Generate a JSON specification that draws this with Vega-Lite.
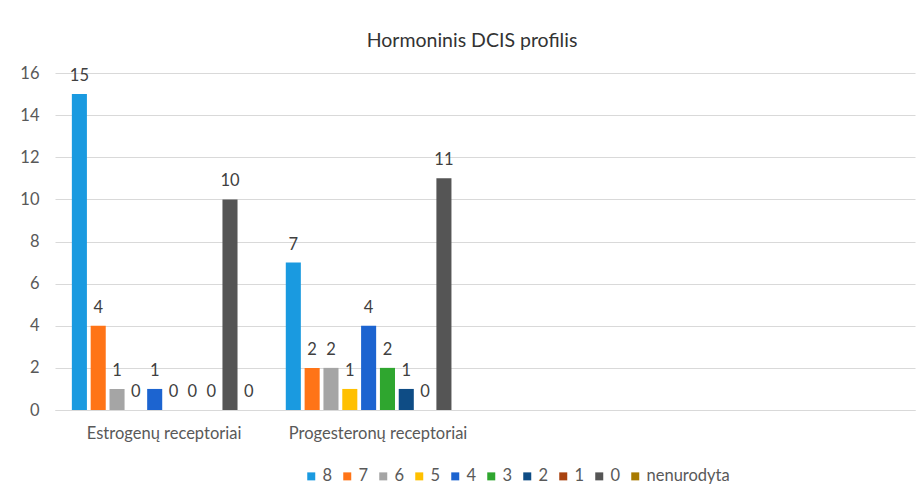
{
  "$schema": "https://vega.github.io/schema/vega-lite/v6.json",
  "width": 860,
  "height": 337,
  "autosize": {"type": "none"},
  "padding": {"left": 55, "top": 73, "right": 6, "bottom": 77},
  "background": "white",
  "title": {"text": "Hormoninis DCIS profilis", "fontSize": 19.5, "font": "Lato", "fontWeight": "normal", "color": "#333333", "anchor": "middle", "offset": 14, "dx": -13},
  "config": {
    "view": {"stroke": null},
    "font": "Lato"
  },
  "data": {
    "values": [
      {"grupe": "Estrogenų receptoriai", "balas": "8", "n": 15},
      {"grupe": "Estrogenų receptoriai", "balas": "7", "n": 4},
      {"grupe": "Estrogenų receptoriai", "balas": "6", "n": 1},
      {"grupe": "Estrogenų receptoriai", "balas": "5", "n": 0},
      {"grupe": "Estrogenų receptoriai", "balas": "4", "n": 1},
      {"grupe": "Estrogenų receptoriai", "balas": "3", "n": 0},
      {"grupe": "Estrogenų receptoriai", "balas": "2", "n": 0},
      {"grupe": "Estrogenų receptoriai", "balas": "1", "n": 0},
      {"grupe": "Estrogenų receptoriai", "balas": "0", "n": 10},
      {"grupe": "Estrogenų receptoriai", "balas": "nenurodyta", "n": 0},
      {"grupe": "Progesteronų receptoriai", "balas": "8", "n": 7},
      {"grupe": "Progesteronų receptoriai", "balas": "7", "n": 2},
      {"grupe": "Progesteronų receptoriai", "balas": "6", "n": 2},
      {"grupe": "Progesteronų receptoriai", "balas": "5", "n": 1},
      {"grupe": "Progesteronų receptoriai", "balas": "4", "n": 4},
      {"grupe": "Progesteronų receptoriai", "balas": "3", "n": 2},
      {"grupe": "Progesteronų receptoriai", "balas": "2", "n": 1},
      {"grupe": "Progesteronų receptoriai", "balas": "1", "n": 0},
      {"grupe": "Progesteronų receptoriai", "balas": "0", "n": 11}
    ]
  },
  "encoding": {
    "x": {
      "field": "grupe", "type": "nominal",
      "scale": {"domain": ["Estrogenų receptoriai", "Progesteronų receptoriai", " ", "  "], "paddingInner": 0.12, "paddingOuter": 0.07},
      "axis": {"title": null, "labelAngle": 0, "labelFontSize": 16.5, "labelColor": "#595959", "labelFont": "Lato", "ticks": false, "domainColor": "#d9d9d9", "domainWidth": 1, "labelPadding": 15}
    },
    "xOffset": {
      "field": "balas", "type": "nominal",
      "scale": {"domain": ["8", "7", "6", "5", "4", "3", "2", "1", "0", "nenurodyta"], "paddingInner": 0.2, "paddingOuter": 0.1}
    },
    "y": {
      "field": "n", "type": "quantitative",
      "scale": {"domain": [0, 16], "nice": false},
      "axis": {"title": null, "values": [0, 2, 4, 6, 8, 10, 12, 14, 16], "labelFontSize": 16.5, "labelColor": "#595959", "labelFont": "Lato", "ticks": false, "domain": false, "gridColor": "#d9d9d9", "gridWidth": 1, "labelPadding": 16}
    }
  },
  "layer": [
    {
      "mark": {"type": "bar"},
      "encoding": {
        "color": {
          "field": "balas", "type": "nominal",
          "scale": {
            "domain": ["8", "7", "6", "5", "4", "3", "2", "1", "0", "nenurodyta"],
            "range": ["#1a9ae0", "#ff7417", "#a5a5a5", "#ffc000", "#1c64d0", "#2fa62f", "#0e4c85", "#a9420f", "#555555", "#a87a00"]
          },
          "legend": {
            "title": null, "orient": "none", "direction": "horizontal", "legendX": 248, "legendY": 395,
            "symbolType": "square", "symbolSize": 64, "symbolStrokeWidth": 0,
            "labelFontSize": 16.5, "labelColor": "#595959", "labelFont": "Lato", "labelOffset": 3, "columnPadding": 6
          }
        }
      }
    },
    {
      "mark": {"type": "text", "dy": -18, "fontSize": 16.5, "color": "#404040", "font": "Lato"},
      "encoding": {
        "text": {"field": "n", "type": "quantitative"}
      }
    }
  ]
}
